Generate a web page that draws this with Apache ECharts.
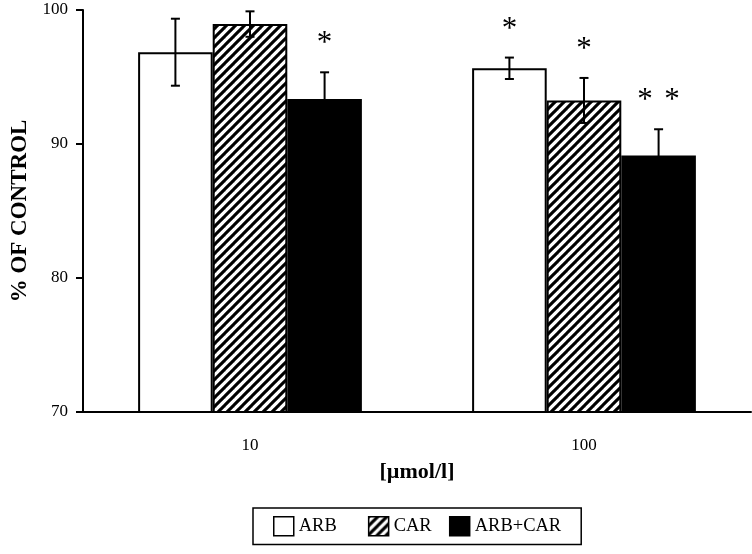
<!DOCTYPE html>
<html>
<head>
<meta charset="utf-8">
<script src="https://cdn.jsdelivr.net/npm/echarts@6/dist/echarts.min.js"></script>
<style>
html,body{margin:0;padding:0;background:#fff;}
#chart{width:752px;height:554px;}
</style>
</head>
<body>
<div id="chart"></div>
<script>
// ---- data ----
var categories = ['10', '100'];
var seriesNames = ['ARB', 'CAR', 'ARB+CAR'];
var arbValues = [96.85, 95.65];
var arbErrors = [2.5, 0.8];
var carValues = [98.95, 93.25];
var carErrors = [0.95, 1.68];
var arbCarValues = [93.35, 89.15];
var arbCarErrors = [2.0, 1.95];
var arbStars = [0, 1];
var carStars = [0, 1];
var arbCarStars = [1, 2];
var yTicks = [70, 80, 90, 100];

// ---- hatch pattern ----
function makeHatch() {
  var s = 9;
  var c = document.createElement('canvas');
  c.width = s; c.height = s;
  var ctx = c.getContext('2d');
  ctx.fillStyle = '#fff';
  ctx.fillRect(0, 0, s, s);
  ctx.strokeStyle = '#000';
  ctx.lineWidth = 3.1;
  for (var k = -s; k <= s; k += s) {
    ctx.beginPath();
    ctx.moveTo(k - 1, s + 1);
    ctx.lineTo(k + s + 1, -1);
    ctx.stroke();
  }
  return c;
}
var hatch = { image: makeHatch(), repeat: 'repeat' };

var FONT = 'Liberation Serif';
var barGroups = [
  { name: seriesNames[0], values: arbValues, errors: arbErrors, stars: arbStars },
  { name: seriesNames[1], values: carValues, errors: carErrors, stars: carStars },
  { name: seriesNames[2], values: arbCarValues, errors: arbCarErrors, stars: arbCarStars }
];
var fills = ['#fff', hatch, '#000'];
var catGap = 0.33;

var errData = [];
barGroups.forEach(function (g, si) {
  g.values.forEach(function (v, ci) {
    errData.push([ci, v, g.errors[ci], si, g.stars[ci]]);
  });
});

var series = barGroups.map(function (g, i) {
  return {
    name: g.name,
    type: 'bar',
    data: g.values,
    barGap: '0%',
    barCategoryGap: (catGap * 100) + '%',
    itemStyle: { color: fills[i], borderColor: '#000', borderWidth: 2 },
    emphasis: { disabled: true },
    z: 2
  };
});

series.push({
  type: 'custom',
  name: 'err',
  z: 5,
  silent: true,
  data: errData,
  renderItem: function (params, api) {
    var ci = api.value(0), v = api.value(1), e = api.value(2), si = api.value(3), ns = api.value(4);
    var band = api.size([1, 0])[0];
    var bw = band * (1 - catGap) / 3;
    var c = api.coord([ci, v]);
    var x = c[0] + (si - 1) * bw;
    var yTop = api.coord([ci, v + e])[1];
    var yBot = api.coord([ci, v - e])[1];
    var cap = 4.5;
    var st = { stroke: '#000', lineWidth: 2 };
    var children = [
      { type: 'line', shape: { x1: x, y1: yTop, x2: x, y2: yBot }, style: st },
      { type: 'line', shape: { x1: x - cap, y1: yTop, x2: x + cap, y2: yTop }, style: st },
      { type: 'line', shape: { x1: x - cap, y1: yBot, x2: x + cap, y2: yBot }, style: st }
    ];
    for (var k = 0; k < ns; k++) {
      var sx = x + (k - (ns - 1) / 2) * 27;
      children.push({
        type: 'text',
        style: {
          x: sx, y: yTop - 28,
          text: '*',
          fill: '#000',
          font: '31px "' + FONT + '"',
          align: 'center',
          verticalAlign: 'middle'
        }
      });
    }
    return { type: 'group', children: children };
  }
});

var legendPad = ['\u00A0\u00A0\u00A0\u00A0\u00A0', '\u00A0\u00A0', ''];

var chart = echarts.init(document.getElementById('chart'), null, { renderer: 'canvas' });
chart.setOption({
  animation: false,
  backgroundColor: '#fff',
  grid: { left: 83, right: 1, top: 10, bottom: 142, containLabel: false },
  legend: {
    data: seriesNames,
    left: 253,
    top: 508,
    orient: 'horizontal',
    icon: 'rect',
    itemWidth: 20,
    itemHeight: 19,
    itemGap: 8,
    padding: [8, 20, 8, 20],
    borderColor: '#000',
    borderWidth: 1.5,
    selectedMode: false,
    itemStyle: { borderColor: '#000', borderWidth: 1.5 },
    formatter: function (name) {
      return name + legendPad[seriesNames.indexOf(name)];
    },
    textStyle: { fontFamily: FONT, fontSize: 18.5, color: '#000' }
  },
  xAxis: {
    type: 'category',
    data: categories,
    name: '[µmol/l]',
    nameLocation: 'middle',
    nameGap: 49,
    nameTextStyle: { fontFamily: FONT, fontSize: 22, fontWeight: 'bold', color: '#000' },
    axisLine: { lineStyle: { color: '#000', width: 2 } },
    axisTick: { show: false },
    axisLabel: { fontFamily: FONT, fontSize: 17, color: '#000', margin: 25 },
    splitLine: { show: false }
  },
  yAxis: {
    type: 'value',
    min: yTicks[0],
    max: yTicks[yTicks.length - 1],
    interval: 10,
    name: '% OF CONTROL',
    nameLocation: 'middle',
    nameGap: 50,
    nameTextStyle: { fontFamily: FONT, fontSize: 23, fontWeight: 'bold', color: '#000' },
    axisLine: { show: true, lineStyle: { color: '#000', width: 2 } },
    axisTick: { show: true, length: 7, lineStyle: { color: '#000', width: 2 } },
    axisLabel: { fontFamily: FONT, fontSize: 17, color: '#000', margin: 15 },
    splitLine: { show: false }
  },
  series: series
});
</script>
</body>
</html>
